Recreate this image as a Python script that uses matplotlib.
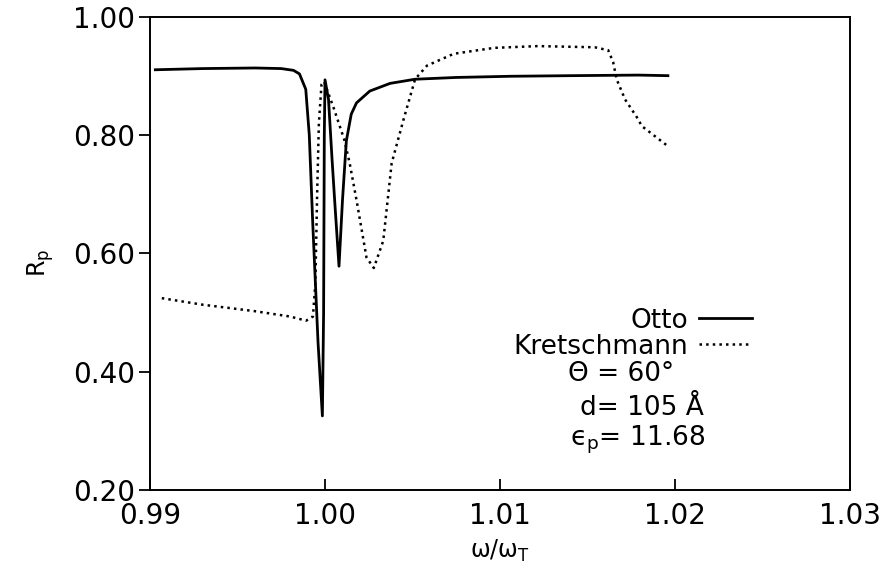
import numpy as np
import matplotlib
matplotlib.use('Agg')
import matplotlib.pyplot as plt

plt.rcParams['mathtext.default'] = 'regular'
plt.rcParams['font.family'] = ['DejaVu Sans']

# Datos (w/wT, Rp)
otto_x = [0.9903, 0.9930, 0.9960, 0.9975, 0.9982, 0.99854, 0.9989, 0.9991, 0.9993,
          0.9996, 0.99985, 0.99992, 0.99996, 1.0000, 1.0002, 1.0004, 1.00055, 1.0008,
          1.0010, 1.00122, 1.0015, 1.0018, 1.00256, 1.00372, 1.00515, 1.0075, 1.01062,
          1.0140, 1.01791, 1.0196]
otto_y = [0.910, 0.912, 0.913, 0.912, 0.909, 0.903, 0.877, 0.80, 0.65,
          0.45, 0.325, 0.50, 0.80, 0.893, 0.86, 0.76, 0.69, 0.578,
          0.69, 0.79, 0.835, 0.854, 0.874, 0.887, 0.894, 0.897, 0.899,
          0.900, 0.901, 0.900]

kret_x = [0.99067, 0.9930, 0.9960, 0.9980, 0.99892, 0.99931, 0.99945, 0.99955, 0.99965,
          0.9998, 0.99995, 1.0005, 1.0011, 1.00141, 1.0018, 1.00237, 1.00279, 1.00333,
          1.00381, 1.00449, 1.00515, 1.00583, 1.00736, 1.00967, 1.01216, 1.01542,
          1.01619, 1.01647, 1.01667, 1.01715, 1.01791, 1.0181, 1.01964]
kret_y = [0.524, 0.513, 0.502, 0.493, 0.486, 0.493, 0.55, 0.70, 0.82,
          0.885, 0.89, 0.845, 0.792, 0.752, 0.69, 0.593, 0.575, 0.621,
          0.752, 0.826, 0.894, 0.917, 0.937, 0.947, 0.950, 0.948,
          0.943, 0.923, 0.894, 0.860, 0.826, 0.815, 0.78]

xticks = [0.99, 1.00, 1.01, 1.02, 1.03]
yticks = [0.20, 0.40, 0.60, 0.80, 1.00]

fig = plt.figure(figsize=(8.88, 5.69), dpi=100)
ax = fig.add_axes([0.169, 0.139, 0.788, 0.832])

ax.plot(otto_x, otto_y, color='black', lw=2.0, label='Otto')
ax.plot(kret_x, kret_y, color='black', lw=1.8, linestyle=':', label='Kretschmann')

ax.set_xlim(0.99, 1.03)
ax.set_ylim(0.20, 1.00)
ax.set_xticks(xticks)
ax.set_xticklabels(['%.2f' % v for v in xticks])
ax.set_yticks(yticks)
ax.set_yticklabels(['%.2f' % v for v in yticks])
ax.tick_params(axis='x', direction='in', length=8, width=1.3, labelsize=20, pad=9)
ax.tick_params(axis='y', direction='out', length=8, width=1.3, labelsize=20, pad=3)
for s in ax.spines.values():
    s.set_linewidth(1.4)

ax.set_xlabel(r'ω/ω$_T$', fontsize=17, labelpad=5)
ax.set_ylabel(r'R$_p$', fontsize=17)
ax.yaxis.set_label_coords(-0.135, 0.48)

ax.legend(loc='upper right', bbox_to_anchor=(0.86, 0.385), frameon=False,
          markerfirst=False, fontsize=19, handlelength=2.0, labelspacing=0.0,
          handletextpad=0.4, borderaxespad=0, borderpad=0)

ax.text(0.597, 0.244, 'Θ = 60°', transform=ax.transAxes, fontsize=19, va='center')
ax.text(0.614, 0.173, 'd= 105 Å', transform=ax.transAxes, fontsize=19, va='center')
ax.text(0.600, 0.105, r'ϵ$_p$= 11.68', transform=ax.transAxes, fontsize=19, va='center')

plt.savefig('out.png', dpi=100)
